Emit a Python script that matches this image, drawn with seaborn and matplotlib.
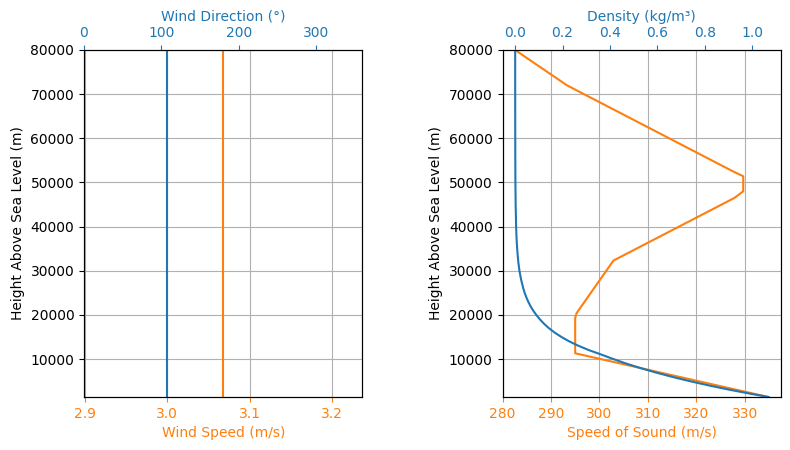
import numpy as np
import seaborn as sns
import matplotlib.pyplot as plt

ORANGE = "#ff7f0e"
BLUE = "#1f77b4"

# left panel: wind profile (constant with height)
wind_heights = [1400, 20000, 40000, 60000, 80000]
wind_speed = [3.068, 3.068, 3.068, 3.068, 3.068]
wind_direction = [107, 107, 107, 107, 107]

# right panel: speed of sound
sound_heights = [1400, 11300, 19300, 20400, 32300, 46500, 48000, 51400, 52500, 72000, 80000]
sound_speed = [334.9, 295.0, 295.0, 295.3, 302.9, 327.9, 329.7, 329.7, 327.6, 293.3, 282.6]

# right panel: density
density_heights = [1400, 2000, 3000, 4000, 5000, 6000, 7000, 8000, 9000, 10000, 11000,
                   12000, 13000, 14000, 15000, 16000, 17000, 18000, 19000, 20000,
                   21000, 22000, 23000, 24000, 25000, 26000, 28000, 30000, 32000,
                   34000, 36000, 38000, 40000, 45000, 50000, 55000, 60000, 70000, 80000]
density = [1.069, 1.007, 0.909, 0.819, 0.736, 0.660, 0.590, 0.526, 0.467, 0.414, 0.364,
           0.312, 0.267, 0.228, 0.195, 0.1665, 0.142, 0.1216, 0.104, 0.089,
           0.0757, 0.0645, 0.055, 0.0469, 0.040, 0.0343, 0.025, 0.018, 0.0132,
           0.0098, 0.0072, 0.0053, 0.004, 0.002, 0.001, 0.00056, 0.0003, 0.0001, 0.00002]

fig, (ax1, ax2) = plt.subplots(1, 2, figsize=(7.9, 4.5), dpi=100)
fig.subplots_adjust(left=0.1063, right=0.9886, bottom=0.1178, top=0.8889, wspace=0.503)

# --- wind ---
sns.lineplot(x=wind_speed, y=wind_heights, orient="y", sort=False, estimator=None,
             color=ORANGE, linewidth=1.5, ax=ax1)
ax1.set_xlim(2.8993, 3.2367)
ax1.set_ylim(1400, 80000)
ax1.set_xlabel("Wind Speed (m/s)", color=ORANGE)
ax1.set_ylabel("Height Above Sea Level (m)")
ax1.tick_params("x", colors=ORANGE)
ax1.grid(True)

ax1t = ax1.twiny()
sns.lineplot(x=wind_direction, y=wind_heights, orient="y", sort=False, estimator=None,
             color=BLUE, linewidth=1.5, ax=ax1t)
ax1t.set_xlim(0, 360)
ax1t.set_xlabel("Wind Direction (°)", color=BLUE)
ax1t.tick_params("x", colors=BLUE)

# --- speed of sound & density ---
sns.lineplot(x=sound_speed, y=sound_heights, orient="y", sort=False, estimator=None,
             color=ORANGE, linewidth=1.5, ax=ax2)
ax2.set_xlim(280.0, 337.5)
ax2.set_ylim(1400, 80000)
ax2.set_xlabel("Speed of Sound (m/s)", color=ORANGE)
ax2.set_ylabel("Height Above Sea Level (m)")
ax2.tick_params("x", colors=ORANGE)
ax2.grid(True)

ax2t = ax2.twiny()
sns.lineplot(x=density, y=density_heights, orient="y", sort=False, estimator=None,
             color=BLUE, linewidth=1.5, ax=ax2t)
ax2t.set_xlim(-0.0534, 1.122)
ax2t.set_xlabel("Density (kg/m³)", color=BLUE)
ax2t.tick_params("x", colors=BLUE)

for a in (ax1, ax2):
    a.set_yticks([10000, 20000, 30000, 40000, 50000, 60000, 70000, 80000])

fig.savefig("out.png", dpi=100)
plt.close(fig)
